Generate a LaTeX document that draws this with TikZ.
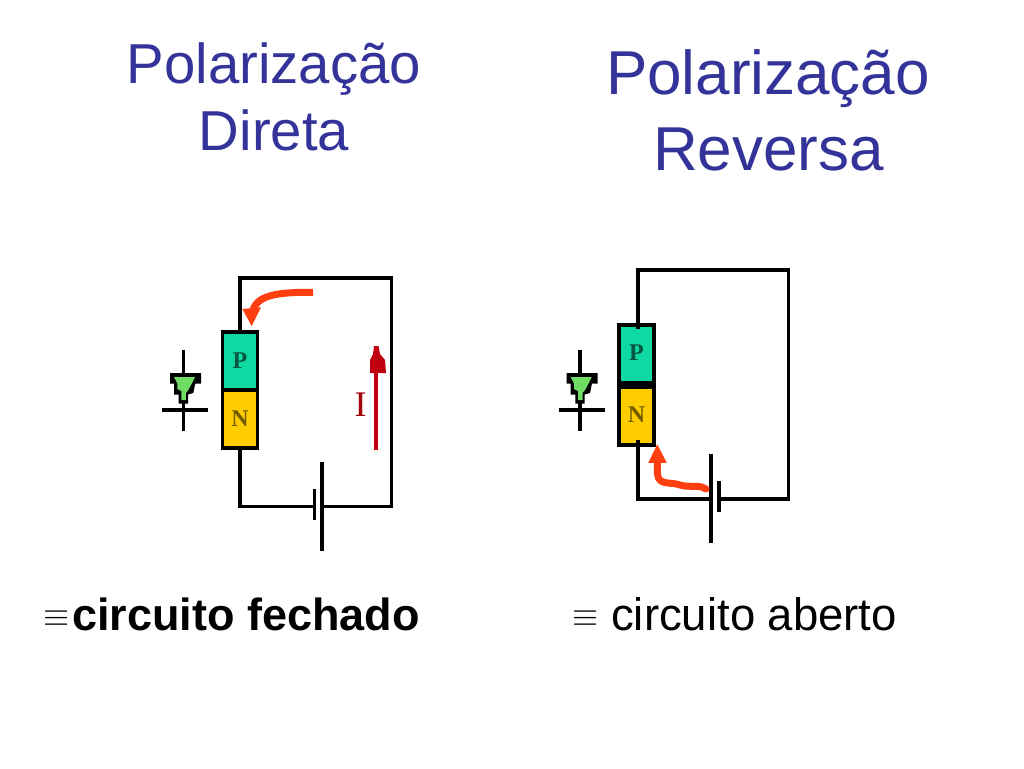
\documentclass[tikz,border=0pt]{standalone}
\usepackage{graphicx}
\usepackage{fontspec}
\setmainfont{Liberation Sans}
\newfontfamily\lettfont{Liberation Serif}
\definecolor{titleblue}{HTML}{333399}
\definecolor{pteal}{HTML}{0FD9A3}
\definecolor{nyellow}{HTML}{FFCC00}
\definecolor{orangearrow}{HTML}{FF3F0F}
\definecolor{currentred}{HTML}{C00010}
\definecolor{diodegreen}{HTML}{6FDC64}
\newcommand{\fsz}[1]{\fontsize{#1}{#1}\selectfont}
\tikzset{
  wire/.style={line width=3.6pt,line cap=butt,line join=miter},
  thin wire/.style={line width=3.2pt},
  layer/.style={draw=black,line width=3.8pt,minimum width=35pt,inner sep=0pt,outer sep=0pt,font=\lettfont\bfseries\fsz{24}},
  player/.style={layer,fill=pteal,text=pteal!40!black},
  nlayer/.style={layer,fill=nyellow,text=nyellow!45!black},
  heading/.style={text=titleblue,anchor=base,inner sep=0pt},
  caption/.style={text=black,anchor=base west,inner sep=0pt},
  orangeline/.style={draw=orangearrow,line width=7pt,line cap=round,line join=round},
  pt/.style={inner sep=0pt,outer sep=0pt,minimum size=0pt}
}
% stepped diode symbol, origin at the crossing of its axis and its bar
\newcommand{\diodesym}[3]{%
  \begin{scope}[shift={(#2,#3)}]
    \coordinate (#1t) at (0,-60);
    \coordinate (#1b) at (0,21);
    \coordinate (#1l) at (-21,0);
    \coordinate (#1r) at (25,0);
    \draw[thin wire] (#1t) -- (#1b);
    \draw[thin wire] (#1l) -- (#1r);
    \fill[black] (-13.3,-37) -- (17.7,-37) -- (17.7,-26.5) -- (12,-26.5) -- (10,-17) -- (4.7,-15.5) -- (4.7,-6.5) -- (-4.7,-6.5) -- (-4.7,-15.5) -- (-9.3,-15.5) -- (-9.3,-26.5) -- (-13.3,-26.5) -- cycle;
    \fill[diodegreen] (-9.3,-33) -- (11.7,-33) -- (8.5,-26.5) -- (5,-20) -- (2.5,-17) -- (2.5,-10) -- (-2,-10) -- (-2,-19) -- (-6,-21) -- (-6,-26.5) -- cycle;
  \end{scope}}
\begin{document}
\begin{tikzpicture}[x=1pt,y=-1pt]
\useasboundingbox (0,0) rectangle (1024,768);
\fill[white] (0,0) rectangle (1024,768);

% headings
\node[heading,font=\fsz{56.3}] (h1a) at (274,83) {Polarização};
\node[heading,font=\fsz{56.3}] (h1b) at (274,150) {Direta};
\node[heading,font=\fsz{62}] (h2a) at (768,94) {Polarização};
\node[heading,font=\fsz{62}] (h2b) at (768.5,170) {Reversa};

% left circuit
\node[player,minimum height=58pt] (p1) at (240,361) {\raisebox{-2.5pt}{P}};
\node[nlayer,minimum height=58pt] (n1) at (240,419) {\raisebox{-2.5pt}{N}};
\coordinate (c1tl) at (240,278);
\coordinate (c1tr) at (391.5,278);
\coordinate (c1br) at (391.5,506.5);
\coordinate (c1bl) at (240,506.5);
\node[pt] (b1s) at (314.3,506.5) {};
\node[pt] (b1l) at (321.7,506.5) {};
\draw[wire] (p1.north) -- (c1tl) -- (c1tr) -- (c1br) -- (b1l.center);
\draw[wire] (n1.south) -- (c1bl) -- (b1s.center);
\draw[wire] (321.7,462) -- (321.7,551);
\draw[wire] (314.3,489) -- (314.3,520);
\diodesym{d1}{183.3}{410}

% forward current arrow
\coordinate (i1a) at (376,450);
\coordinate (i1b) at (376,370);
\draw[draw=currentred,line width=3.5pt] (i1a) -- (i1b);
\fill[currentred] (374,346) -- (378.5,346) -- (380,354) -- (385,360) -- (386,373) -- (370,373) -- (370,360) -- (373,354) -- cycle;
\node[inner sep=0pt,text=currentred!85!black,font=\lettfont\fsz{36},anchor=base] (ilabel) at (360.7,416) {I};

% left orange arrow
\coordinate (o1a) at (313,292.3);
\coordinate (o1b) at (253,310);
\draw[orangeline,line cap=butt] (o1a) .. controls (285,292.3) and (258,293) .. (o1b);
\fill[orangearrow] (242.3,309) -- (261,307.3) -- (251.7,326) -- cycle;

% right circuit
\node[player,minimum height=58pt] (p2) at (636.5,354) {\raisebox{2pt}{P}};
\node[nlayer,minimum height=58pt] (n2) at (636.5,416) {\raisebox{3pt}{N}};
\fill[black] (619,381) rectangle (654,388);
\coordinate (c2tl) at (638,270);
\coordinate (c2tr) at (788.5,270);
\coordinate (c2br) at (788.5,498.7);
\coordinate (c2bl) at (638,498.7);
\node[pt] (b2l) at (711,498.7) {};
\node[pt] (b2s) at (719,498.7) {};
\draw[wire] (638,329) -- (c2tl) -- (c2tr) -- (c2br) -- (b2s.center);
\draw[wire] (638,440) -- (c2bl) -- (b2l.center);
\draw[wire] (711,454) -- (711,543);
\draw[wire] (719,481) -- (719,511.7);
\diodesym{d2}{580}{410}

% right orange arrow
\coordinate (o2a) at (706,489);
\coordinate (o2b) at (657.3,460);
\draw[orangeline] (o2a) .. controls (698,484) and (690,488) .. (680,485)
   .. controls (672,482) and (662,485) .. (658.5,478) .. controls (656.5,473) and (657.5,468) .. (o2b);
\fill[orangearrow] (648.3,462.8) -- (666.7,462.8) -- (657.3,444.3) -- cycle;

% captions
\node[inner sep=0pt,anchor=base,font=\fsz{25}] (e1) at (56.5,626.4) {\scalebox{1.35}{$\equiv$}};
\node[caption,font=\fsz{45}\bfseries] (t1) at (72,630) {circuito fechado};
\node[inner sep=0pt,anchor=base,font=\fsz{25}] (e2) at (585.5,626.4) {\scalebox{1.35}{$\equiv$}};
\node[caption,font=\fsz{45.5}] (t2) at (611,630) {circuito aberto};
\end{tikzpicture}
\end{document}
